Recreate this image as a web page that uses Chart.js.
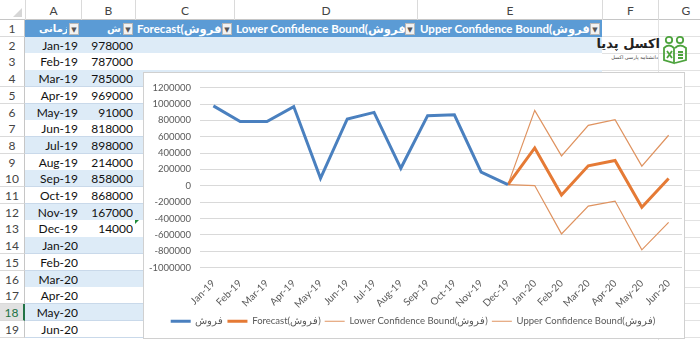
<!DOCTYPE html>
<html><head><meta charset="utf-8">
<script src="https://cdn.jsdelivr.net/npm/chart.js@4.4.1/dist/chart.umd.min.js"></script>
<style>
html,body{margin:0;padding:0}
body{width:700px;height:342px;overflow:hidden;background:#fff;font-family:Lato,"DejaVu Sans",sans-serif;position:relative}
.c{position:absolute;box-sizing:border-box;white-space:nowrap;overflow:hidden}
.dd{position:absolute;width:10px;height:12px;background:#f2f2f2;border:1px solid #b8b8b8;box-sizing:border-box;font-size:7px;line-height:10px;text-align:center;color:#555}
.ltr{direction:ltr;unicode-bidi:isolate}
</style></head><body>
<div id="sheet"></div>
<div id="logo" style="position:absolute;left:598px;top:34px;width:94px;height:34px">
  <div style="position:absolute;left:0;top:1px;width:62px;white-space:nowrap;text-align:right;direction:rtl;font-family:'DejaVu Sans',sans-serif;font-weight:bold;font-size:13px;color:#222;line-height:17px">اکسل پدیا</div>
  <div style="position:absolute;left:0;top:20px;width:60px;white-space:nowrap;text-align:right;direction:rtl;font-family:'DejaVu Sans',sans-serif;font-size:5px;color:#444;line-height:7px">دانشنامه پارسی اکسل</div>
  <svg style="position:absolute;left:63px;top:1px" width="28" height="30" viewBox="0 0 28 30">
    <g fill="none" stroke="#4da33d" stroke-width="1.8">
      <circle cx="8" cy="5" r="3.2"/><circle cx="19" cy="5" r="3.2"/>
      <path d="M3 13 Q8 8 13 13 L13 28 L3 25 Z"/>
      <path d="M14 13 Q19 8 25 13 L25 25 L14 28"/>
      <path d="M6 16 L11 23 M11 16 L6 23"/>
      <path d="M17 17 H22 M17 20 H22 M17 23 H22"/>
    </g>
  </svg>
</div>
<div id="chartBox" style="position:absolute;left:143px;top:72px;width:542px;height:267px;border:1px solid #d0d0d0;box-sizing:border-box;background:#fff">
  <canvas id="ch" width="540" height="265" style="display:block"></canvas>
</div>
<script>
// ---- data ----
const months = ['Jan-19','Feb-19','Mar-19','Apr-19','May-19','Jun-19','Jul-19','Aug-19','Sep-19','Oct-19','Nov-19','Dec-19','Jan-20','Feb-20','Mar-20','Apr-20','May-20','Jun-20'];
const sales = [978000,787000,785000,969000,91000,818000,898000,214000,858000,868000,167000,14000,null,null,null,null,null,null];
const forecast = [null,null,null,null,null,null,null,null,null,null,null,14000,463000,-113000,244000,309000,-264000,89000];
const lowerBound = [null,null,null,null,null,null,null,null,null,null,null,14000,3000,-589000,-248000,-187000,-784000,-448000];
const upperBound = [null,null,null,null,null,null,null,null,null,null,null,14000,923000,366000,740000,809000,240000,618000];
const seriesNames = ['فروش','Forecast(فروش)','Lower Confidence Bound(فروش)','Upper Confidence Bound(فروش)'];
const tableHeaders = ['دوره زمانی','فروش','Forecast(فروش)','Lower Confidence Bound(فروش)','Upper Confidence Bound(فروش)'];
const colLetters = ['A','B','C','D','E','F','G'];
const yMin = -1000000, yMax = 1200000, yStep = 200000;

// ---- spreadsheet backdrop ----
(function(){
  const sheet = document.getElementById('sheet');
  const edges = [0,25,81,135,234,417,602,658,713];
  const hdrH = 20, rowH = 16.7;
  const add = (html)=>sheet.insertAdjacentHTML('beforeend', html);
  const top = r => hdrH + (r-1)*rowH;
  add(`<div class="c" style="left:0;top:0;width:700px;height:${hdrH}px;background:#fff;border-bottom:1px solid #c6c6c6"></div>`);
  add(`<div class="c" style="left:13px;top:8px;width:0;height:0;border-left:9px solid transparent;border-bottom:9px solid #d6d6d6"></div>`);
  for(let i=0;i<colLetters.length;i++){
    const l=edges[i+1], w=edges[i+2]-edges[i+1];
    add(`<div class="c" style="left:${l}px;top:0;width:${w}px;height:${hdrH}px;border-left:1px solid #dadada;text-align:center;font-size:12px;line-height:21px;color:#444">${colLetters[i]}</div>`);
  }
  for(let r=1;r<=19;r++){
    const t = top(r);
    const sel = r===18;
    add(`<div class="c" style="left:0;top:${t}px;width:25px;height:${rowH+0.5}px;background:${sel?'#e1e1e1':'#fff'};border-bottom:1px solid #dadada;${sel?'border-right:2px solid #217346;':'border-right:1px solid #c6c6c6;'}text-align:center;font-size:12px;line-height:17px;color:${sel?'#217346':'#444'}">${r}</div>`);
    let bg = r===1 ? '#5b9bd5' : (r%2===0 ? '#ddebf7' : '#fff');
    add(`<div class="c" style="left:25px;top:${t}px;width:577px;height:${rowH+0.5}px;background:${bg};border-bottom:1px solid ${r===1?'#5b9bd5':'#c9d9ea'}"></div>`);
    add(`<div class="c" style="left:602px;top:${t}px;width:111px;height:${rowH+0.5}px;border-bottom:1px solid #e2e2e2"></div>`);
    if(r>=2){
      const i=r-2;
      add(`<div class="c" style="left:25px;top:${t}px;width:53px;height:${rowH}px;text-align:right;font-size:12px;line-height:17px;color:#111">${months[i]}</div>`);
      if(sales[i]!==null && i<12) add(`<div class="c" style="left:81px;top:${t}px;width:52px;height:${rowH}px;text-align:right;font-size:12px;line-height:17px;color:#111">${sales[i]}</div>`);
    }
  }
  add(`<div class="c" style="left:658px;top:${top(1)}px;width:1px;height:320px;background:#e2e2e2"></div>`);
  const t1 = top(1);
  add(`<div class="c" style="left:25px;top:${t1}px;width:42px;height:${rowH}px"><span style="position:absolute;left:14px;top:0;direction:rtl;font-family:'DejaVu Sans',sans-serif;font-weight:bold;font-size:10px;line-height:17px;color:#fff">${tableHeaders[0]}</span></div>`);
  add(`<div class="c" style="left:106px;top:${t1}px;width:15px;height:${rowH}px"><span style="position:absolute;left:1px;top:0;direction:rtl;font-family:'DejaVu Sans',sans-serif;font-weight:bold;font-size:10px;line-height:17px;color:#fff">${tableHeaders[1]}</span></div>`);
  add(`<div class="c ltr" style="left:137px;top:${t1}px;width:85px;height:${rowH}px;font-weight:bold;font-size:11.5px;line-height:17px;color:#fff">${tableHeaders[2]}</div>`);
  add(`<div class="c ltr" style="left:236px;top:${t1}px;width:170px;height:${rowH}px;font-weight:bold;font-size:11.5px;line-height:17px;color:#fff">${tableHeaders[3]}</div>`);
  add(`<div class="c ltr" style="left:420px;top:${t1}px;width:170px;height:${rowH}px;font-weight:bold;font-size:11.5px;line-height:17px;color:#fff">${tableHeaders[4]}</div>`);
  [[25,81],[81,135],[135,234],[234,417],[417,602]].forEach(([a,b])=>{
    add(`<div class="dd" style="left:${b-12}px;top:${t1+2.5}px">&#9660;</div>`);
  });
  add(`<div class="c" style="left:135px;top:${top(13)}px;width:0;height:0;border-top:4px solid #1e8a3a;border-right:4px solid transparent"></div>`);
})();

// ---- chart ----
const ctx = document.getElementById('ch').getContext('2d');
new Chart(ctx, {
  type: 'line',
  data: {
    labels: months,
    datasets: [
      {label: seriesNames[0], data: sales, borderColor:'#4a80bf', backgroundColor:'#4a80bf', borderWidth:3, pointRadius:0, pointStyle:'line', tension:0},
      {label: seriesNames[1], data: forecast, borderColor:'#e57a35', backgroundColor:'#e57a35', borderWidth:3, pointRadius:0, pointStyle:'line', tension:0},
      {label: seriesNames[2], data: lowerBound, borderColor:'#df9360', backgroundColor:'#df9360', borderWidth:1.2, pointRadius:0, pointStyle:'line', tension:0},
      {label: seriesNames[3], data: upperBound, borderColor:'#df9360', backgroundColor:'#df9360', borderWidth:1.2, pointRadius:0, pointStyle:'line', tension:0}
    ]
  },
  options: {
    responsive:false, animation:false, devicePixelRatio:1,
    layout:{padding:{left:0,right:2,top:12,bottom:2}},
    plugins:{
      tooltip:{enabled:false},
      legend:{position:'bottom', labels:{usePointStyle:true, pointStyleWidth:20, boxHeight:9, padding:4, color:'#595959', font:{family:'Lato', size:9.5}}}
    },
    scales:{
      x:{offset:true, grid:{display:false}, border:{display:false},
         ticks:{maxRotation:45, minRotation:45, autoSkip:false, padding:2, color:'#595959', font:{family:'Lato', size:10}},
         afterFit:(s)=>{s.height=45;}},
      y:{min:yMin, max:yMax, grid:{color:'#d9d9d9', drawTicks:false, lineWidth:1}, border:{display:false},
         ticks:{stepSize:yStep, padding:9, color:'#595959', font:{family:'Lato', size:9.5}, callback:(v)=>String(v)},
         afterFit:(s)=>{s.width=56;}}
    }
  }
});
</script>
</body></html>
